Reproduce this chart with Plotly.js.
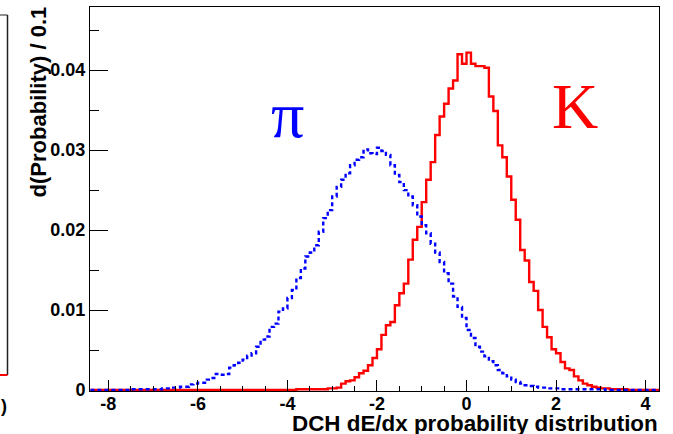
<!DOCTYPE html>
<html>
<head>
<meta charset="utf-8">
<script src="https://cdn.plot.ly/plotly-3.0.1.min.js"></script>
<style>html,body{margin:0;padding:0;background:#fff;}#chart{width:673px;height:434px;}</style>
</head>
<body>
<div id="chart"></div>
<script>
// Histogram binning: 0.1-wide bins from -8.4 to 4.3
const binStart = -8.4;
const binWidth = 0.1;
const binEnd = 4.3;

// pion (blue dotted) d(Probability)/0.1 per bin
const pionProb = [
  0,0,0,0,0,0,0,0,0,
  0.0001,0.0001,0.0001,0.0001,0.0001,0.0001,0.0001,
  0.0002,0.0002,0.0003,0.0003,0.0004,0.0004,0.0007,0.0008,0.0009,0.0009,
  0.0013,0.0015,0.0020,0.0019,0.0020,0.0028,0.0031,0.0034,0.0038,0.0043,
  0.0046,0.0054,0.0063,0.0067,0.0079,0.0083,0.0098,0.0102,0.0115,0.0125,
  0.0140,0.0152,0.0167,0.0172,0.0181,0.0198,0.0215,0.0225,0.0242,0.0254,
  0.0263,0.0271,0.0281,0.0288,0.0291,0.0301,0.0296,0.0295,0.0303,0.0299,
  0.0294,0.0281,0.0269,0.0260,0.0250,0.0242,0.0231,0.0217,0.0206,0.0196,
  0.0183,0.0172,0.0160,0.0146,0.0133,0.0117,0.0104,0.0090,0.0075,0.0065,
  0.0054,0.0048,0.0042,0.0036,0.0031,0.0025,0.0021,0.0017,0.0013,0.0010,
  0.0008,0.0006,0.0005,0.0004,0.0003,0.0003,0.0002,0.0002,0.0002,
  0.0001,0.0001,0.0001,0.0001,0.0001,0.0001,0.0001,0.0001,0.0001,0.0001,
  0,0,0,0,0,0,0,0,0,0,0,0
];

// kaon (red solid) d(Probability)/0.1 per bin
const kaonProb = [
  0,0,0,0,0,0,0,0,0,0,
  0,0,0,0,0,0,0,0,0,0,
  0,0,0,0,0,0,0,0,0,0,
  0,0,0,0,0,0,0,0,0,0,
  0,0,0,0,0,0,
  0.0001,0.0001,0.0001,0.0001,0.0001,0.0001,0.0001,0.0002,0.0002,0.0003,
  0.0008,0.0011,0.0012,0.0016,0.0021,0.0024,0.0031,0.0040,0.0051,0.0069,
  0.0081,0.0085,0.0106,0.0121,0.0133,0.0163,0.0188,0.0204,0.0235,0.0263,
  0.0285,0.0319,0.0342,0.0358,0.0377,0.0387,0.0420,0.0408,0.0422,0.0408,
  0.0405,0.0405,0.0403,0.0367,0.0349,0.0306,0.0291,0.0267,0.0238,0.0213,
  0.0175,0.0162,0.0135,0.0124,0.0100,0.0079,0.0066,0.0051,0.0046,0.0035,
  0.0027,0.0025,0.0017,0.0012,0.0008,0.0006,0.0004,0.0003,0.0002,0.0002,
  0.0001,0.0001,0.0001,0.0001,
  0,0,0,0,0,0,0
];

const xTickVals = [-8,-6,-4,-2,0,2,4];
const xTickText = ['-8','-6','-4','-2','0','2','4'];
const yTickVals = [0,0.01,0.02,0.03,0.04];
const yTickText = ['0','0.01','0.02','0.03','0.04'];

const xTitle = 'DCH dE/dx probability distribution';
const yTitle = 'd(Probability) / 0.1';
const pionLabel = 'π';
const kaonLabel = 'K';

function stepXY(vals){
  const xs = [], ys = [];
  for (let i = 0; i < vals.length; i++){ xs.push(+(binStart + i*binWidth).toFixed(2)); ys.push(vals[i]); }
  xs.push(binEnd); ys.push(vals[vals.length-1]);
  return {xs, ys};
}
const k = stepXY(kaonProb), p = stepXY(pionProb);

const sans = 'Liberation Sans, Arial, Helvetica, sans-serif';
const traces = [
  {x:k.xs, y:k.ys, type:'scatter', mode:'lines', line:{shape:'hv', color:'#ff0000', width:2.4}, hoverinfo:'skip', showlegend:false},
  {x:p.xs, y:p.ys, type:'scatter', mode:'lines', line:{shape:'hv', color:'#0000ff', width:2.4, dash:'4px,3px'}, hoverinfo:'skip', showlegend:false}
];

// plot area: x 90..659, y 7..391 (y=0 at 390)
const layout = {
  width:673, height:434,
  margin:{l:90, r:14, t:7, b:43, pad:0},
  paper_bgcolor:'#ffffff', plot_bgcolor:'#ffffff',
  showlegend:false,
  xaxis:{
    range:[-8.41, 4.3], showgrid:false, zeroline:false,
    showline:true, mirror:true, linecolor:'#000', linewidth:1,
    tickmode:'array', tickvals:xTickVals, ticktext:xTickText,
    ticks:'inside', ticklen:11, tickwidth:1, tickcolor:'#000',
    minor:{tickmode:'linear', tick0:-8, dtick:0.5, ticks:'inside', ticklen:5.5, tickwidth:1, tickcolor:'#000', showgrid:false},
    tickfont:{family:sans, size:18, color:'#000', weight:'bold'},
    ticklabelstandoff:-4
  },
  yaxis:{
    range:[-0.000125, 0.0479], showgrid:false, zeroline:false,
    showline:true, mirror:true, linecolor:'#000', linewidth:1,
    tickmode:'array', tickvals:yTickVals, ticktext:yTickText,
    ticks:'inside', ticklen:18, tickwidth:1, tickcolor:'#000',
    minor:{tickmode:'linear', tick0:0, dtick:0.005, ticks:'inside', ticklen:9, tickwidth:1, tickcolor:'#000', showgrid:false},
    tickfont:{family:sans, size:18, color:'#000', weight:'bold'},
    ticklabelstandoff:0
  },
  annotations:[
    {text:xTitle, xref:'paper', yref:'paper', x:1.002, y:-0.084, xanchor:'right', yanchor:'middle', showarrow:false,
     font:{family:sans, size:22.4, color:'#000', weight:'bold'}},
    {text:yTitle, xref:'paper', yref:'paper', x:-0.0914, y:1.008, xanchor:'center', yanchor:'top', textangle:-90, showarrow:false,
     font:{family:sans, size:22, color:'#000', weight:'bold'}},
    {text:pionLabel, xref:'paper', yref:'paper', x:(287-90)/569, y:(391-114)/384, xanchor:'center', yanchor:'middle', showarrow:false,
     font:{family:'Liberation Serif, Times New Roman, serif', size:66, color:'#0000ff'}},
    {text:kaonLabel, xref:'paper', yref:'paper', x:(575-90)/569, y:(391-107)/384, xanchor:'center', yanchor:'middle', showarrow:false,
     font:{family:'Liberation Serif, Times New Roman, serif', size:64, color:'#ff0000'}},
    {text:')', xref:'paper', yref:'paper', x:(4-90)/569, y:(391-406)/384, xanchor:'center', yanchor:'middle', showarrow:false,
     font:{family:sans, size:18, color:'#000', weight:'bold'}}
  ],
  shapes:[
    {type:'line', xref:'paper', yref:'paper', x0:(7.5-90)/569, x1:(7.5-90)/569, y0:(391-15)/384, y1:(391-375)/384, line:{color:'#222', width:1.5}},
    {type:'line', xref:'paper', yref:'paper', x0:-90/569, x1:(7.5-90)/569, y0:(391-15)/384, y1:(391-15)/384, line:{color:'#222', width:1}},
    {type:'line', xref:'paper', yref:'paper', x0:-90/569, x1:(7.5-90)/569, y0:(391-375)/384, y1:(391-375)/384, line:{color:'#ff0000', width:2}}
  ]
};

Plotly.newPlot('chart', traces, layout, {displayModeBar:false, staticPlot:true});
</script>
</body>
</html>
